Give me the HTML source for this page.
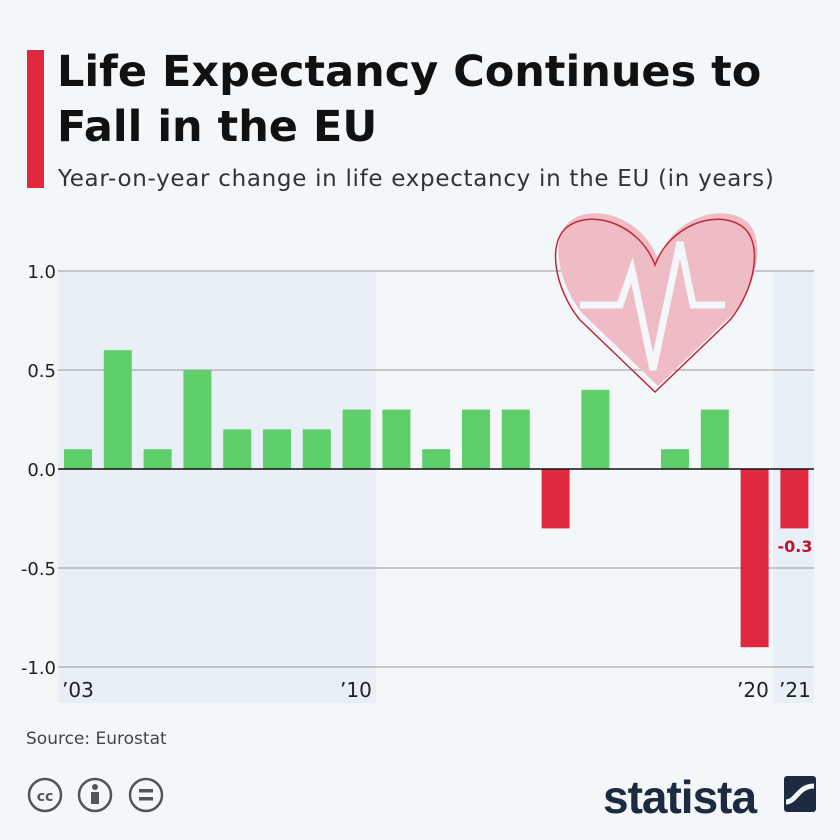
<!DOCTYPE html>
<html><head><meta charset="utf-8"><style>
body{margin:0;width:840px;height:840px;background:#f4f7fa;font-family:"DejaVu Sans","Liberation Sans",sans-serif;overflow:hidden;position:relative}
.t{position:absolute;left:57px;top:45px;font-size:43px;font-weight:bold;line-height:55px;color:#111;letter-spacing:0px;white-space:nowrap}
.s{position:absolute;left:58px;top:166px;font-size:23px;color:#333;white-space:nowrap;letter-spacing:0.7px}
.bar{position:absolute;left:27px;top:50px;width:17px;height:138px;background:#e0283f}
</style></head><body>
<div class="bar"></div>
<div class="t">Life Expectancy Continues to<br>Fall in the EU</div>
<div class="s">Year-on-year change in life expectancy in the EU (in years)</div>
<svg width="840" height="840" style="position:absolute;left:0;top:0" font-family="DejaVu Sans, Liberation Sans, sans-serif">
<rect x="58" y="271" width="318" height="432" fill="#e9eff6"/>
<rect x="773" y="271" width="41" height="432" fill="#e9eff6"/>
<g stroke="#aaa" stroke-width="1.2">
<line x1="58" x2="814" y1="271" y2="271"/><line x1="58" x2="814" y1="370" y2="370"/>
<line x1="58" x2="814" y1="568" y2="568"/><line x1="58" x2="814" y1="667" y2="667"/></g>
<g font-size="18" fill="#222" text-anchor="end">
<text x="56" y="278">1.0</text><text x="56" y="377">0.5</text><text x="56" y="476">0.0</text>
<text x="56" y="575">-0.5</text><text x="56" y="674">-1.0</text></g>
<g transform="translate(655,0)">
<path d="M0,265 C-15,225 -60,210 -85,225 C-110,240 -100,290 -75,320 L0,392 L75,320 C100,290 110,240 85,225 C60,210 15,225 0,265Z" fill="#efbcc6" transform="translate(3,-6)"/>
<path d="M0,265 C-15,225 -60,210 -85,225 C-110,240 -100,290 -75,320 L0,392 L75,320 C100,290 110,240 85,225 C60,210 15,225 0,265Z" fill="none" stroke="#c0283a" stroke-width="1.5"/>
<polyline points="-75,305 -35,305 -23,270 -2,370 25,242 38,305 70,305" fill="none" stroke="#f4f7fa" stroke-width="7" stroke-linejoin="miter"/>
</g>
<g id="bars"></g>
<line x1="58" x2="814" y1="469" y2="469" stroke="#111" stroke-width="1.5"/>
<text x="795" y="552" font-size="16" font-weight="bold" fill="#c0142e" text-anchor="middle">-0.3</text>
<g font-size="20" fill="#222">
<text x="62" y="697">’03</text><text x="340" y="697">’10</text><text x="737" y="697">’20</text><text x="779" y="697">’21</text></g>
<text x="26" y="744" font-size="17" fill="#444">Source: Eurostat</text>
<g fill="none" stroke="#555" stroke-width="2.5">
<circle cx="45" cy="795" r="16"/><circle cx="95" cy="795" r="16"/><circle cx="146" cy="795" r="16"/></g>
<text x="45" y="801" font-size="14" font-weight="bold" fill="#555" text-anchor="middle">cc</text>
<circle cx="95" cy="787" r="3" fill="#555"/><rect x="91" y="792" width="8" height="12" fill="#555"/>
<rect x="139" y="789" width="14" height="3.5" fill="#555"/><rect x="139" y="797" width="14" height="3.5" fill="#555"/>
<text x="603" y="813" font-size="46" font-weight="bold" fill="#1c2b3f" letter-spacing="-1" font-family="Liberation Sans, sans-serif">statista</text>
<rect x="784" y="776" width="32" height="36" rx="3" fill="#1c2b3f"/>
<path d="M786,802 C796,802 798,786 814,786" stroke="#f4f7fa" stroke-width="5" fill="none"/>
</svg>
<script>
var v=[.1,.6,.1,.5,.2,.2,.2,.3,.3,.1,.3,.3,-.3,.4,0,.1,.3,-.9,-.3],g=document.getElementById('bars'),s='';
v.forEach(function(d,i){if(!d)return;var x=64+i*39.8,h=Math.abs(d)*198,y=d>0?469-h:469;
s+='<rect x="'+x.toFixed(1)+'" y="'+y+'" width="28" height="'+h+'" fill="'+(d>0?'#5ecf6b':'#e0283f')+'"/>';});
g.innerHTML=s;
</script>
</body></html>
